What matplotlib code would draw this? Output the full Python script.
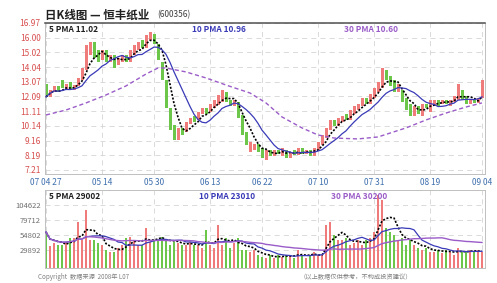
import matplotlib
matplotlib.use("Agg")
import matplotlib.pyplot as plt
import numpy as np
import pandas as pd

plt.rcParams['font.family'] = ['Noto Sans CJK SC', 'DejaVu Sans']

# daily candles (price)
opens = [12.92, 12.06, 12.39, 12.79, 13.19, 12.52, 13.05, 12.52, 12.79, 13.19,
         13.85, 14.85, 15.71, 15.18, 14.51, 15.18, 14.38, 14.85, 14.18, 14.38,
         14.85, 14.38, 14.85, 15.18, 15.84, 15.31, 15.84, 16.24, 15.58, 14.38,
         13.19, 11.33, 10.20, 9.20, 10.00, 9.73, 10.26, 10.80, 10.53, 10.93,
         11.33, 11.06, 11.33, 11.53, 11.72, 12.39, 11.86, 11.46, 11.72, 10.86,
         9.73, 8.40, 8.54, 8.94, 8.67, 7.87, 8.54, 8.14, 8.54, 8.14,
         8.54, 8.01, 8.54, 8.21, 8.67, 8.27, 8.54, 8.14, 8.54, 8.87,
         9.33, 9.87, 10.53, 10.13, 10.40, 10.93, 10.53, 10.93, 11.19, 11.46,
         11.99, 11.59, 11.99, 12.39, 12.65, 13.85, 13.45, 13.19, 12.39, 12.52,
         11.99, 11.59, 10.80, 11.46, 10.80, 11.59, 11.06, 11.46, 11.86, 11.59,
         11.86, 11.46, 11.72, 11.86, 12.52, 12.12, 11.59, 11.86, 11.66, 11.99]
closes = [12.06, 12.52, 12.79, 12.39, 12.65, 12.92, 12.52, 12.85, 13.32, 13.98,
          15.51, 15.71, 14.65, 14.38, 15.18, 14.38, 14.85, 13.98, 14.65, 14.85,
          14.38, 15.18, 15.51, 15.71, 15.31, 16.17, 16.37, 15.58, 14.51, 13.19,
          11.33, 9.87, 9.20, 10.00, 9.53, 10.40, 10.66, 10.40, 11.06, 11.33,
          10.93, 11.59, 11.86, 12.19, 12.52, 11.72, 11.46, 11.86, 10.66, 9.53,
          8.87, 9.07, 8.94, 8.40, 8.01, 8.54, 8.14, 8.54, 8.27, 8.67,
          8.01, 8.40, 8.21, 8.67, 8.27, 8.54, 8.14, 8.67, 9.07, 9.53,
          10.00, 10.53, 10.13, 10.66, 10.80, 10.53, 11.19, 11.46, 11.59, 11.99,
          11.59, 12.26, 12.65, 13.05, 13.98, 13.19, 12.79, 12.39, 12.92, 11.72,
          11.19, 10.80, 11.46, 10.93, 11.59, 11.33, 11.86, 11.86, 11.46, 11.86,
          11.59, 11.86, 12.12, 12.92, 11.86, 11.59, 11.86, 11.66, 11.99, 13.19]
volumes = [59800, 36500, 41500, 38200, 38200, 43200, 49800, 49800, 76400, 46500,
           96300, 46500, 46500, 41500, 38200, 29900, 26600, 26600, 33200, 38200,
           49800, 51500, 46500, 38200, 38200, 66400, 43200, 46500, 46500, 51500,
           46500, 38200, 43200, 41500, 38200, 38200, 43200, 38200, 38200, 33200,
           63100, 38200, 33200, 71400, 38200, 49800, 33200, 41500, 49800, 29900,
           29900, 26600, 29900, 21600, 18300, 16600, 21600, 16600, 21600, 18300,
           21600, 21600, 16600, 29900, 21600, 16600, 21600, 26600, 21600, 21600,
           71400, 76400, 54800, 46500, 46500, 49800, 38200, 41500, 46500, 38200,
           46500, 49800, 59800, 121300, 112900, 66400, 59800, 54800, 46500, 49800,
           38200, 46500, 38200, 33200, 29900, 33200, 26600, 26600, 29900, 24900,
           29900, 26600, 21600, 33200, 26600, 26600, 29900, 26600, 29900, 26600]

# 30-day price average as drawn (read at these candle indices)
ma30_idx = [0, 5, 10, 15, 20, 25, 28, 30, 35, 40, 45, 51, 55, 59, 64, 68, 72,
            78, 83, 90, 95, 100, 105, 109]
ma30_val = [10.86, 11.19, 11.66, 12.19, 12.79, 13.58, 13.98, 13.98, 13.72,
            13.32, 12.85, 12.32, 11.66, 10.73, 10.00, 9.53, 9.33, 9.27, 9.40,
            10.00, 10.53, 10.99, 11.39, 11.66]

date_pos = [0, 14, 27, 41, 54, 68, 82, 96, 109]
date_labels = ["07 04 27", "05 14", "05 30", "06 13", "06 22",
               "07 10", "07 31", "08 19", "09 04"]
price_ticks = [16.97, 16.00, 15.02, 14.04, 13.07, 12.09, 11.11, 10.14, 9.16, 8.19, 7.21]
vol_ticks = [104622, 79712, 54802, 29892]

RED = "#f07b7b"
GREEN = "#6cc64a"
BLUE = "#3a3ab8"
PURPLE = "#9a5cc8"

o = np.array(opens)
c = np.array(closes)
v = np.array(volumes)
idx = np.arange(len(c))
up = c >= o
cols = np.where(up, RED, GREEN)

fig = plt.figure(figsize=(4.97, 2.83), dpi=100)

ax = fig.add_axes([45 / 497, 1 - 174 / 283, 440 / 497, 151 / 283])
ax.bar(idx, np.abs(c - o), bottom=np.minimum(o, c), width=0.75, color=cols, zorder=2)
s = pd.Series(c)
ax.plot(idx, s.rolling(5, min_periods=1).mean(), color="black", ls=(0, (1.2, 1)), lw=1.2, zorder=3)
ax.plot(idx, s.rolling(10, min_periods=1).mean(), color=BLUE, lw=0.9, zorder=3)
ax.plot(ma30_idx, ma30_val, color=PURPLE, ls=(0, (3, 2)), lw=1.0, zorder=3)
ax.set_xlim(-0.25, 109.75)
ax.set_ylim(6.94, 16.97)
ax.set_yticks(price_ticks)
ax.set_yticklabels([f"{t:.2f}" for t in price_ticks], color="#d85050", fontsize=6)
ax.set_xticks(date_pos)
ax.set_xticklabels(date_labels, color="#3f6fae", fontsize=6)
ax.tick_params(length=0, pad=3)
ax.grid(True, color="#d4d4d4", ls=(0, (6, 5)), lw=0.6)
for sp in ax.spines.values():
    sp.set_color("#c0c0c0")
    sp.set_linewidth(0.7)
ax.spines["top"].set_color("#505050")
ax.spines["top"].set_linewidth(1.1)
ax.text(0.008, 0.985, "5 PMA 11.02", transform=ax.transAxes, va="top", fontsize=6,
        fontweight="bold", color="#202020")
ax.text(0.334, 0.985, "10 PMA 10.96", transform=ax.transAxes, va="top", fontsize=6,
        fontweight="bold", color=BLUE)
ax.text(0.68, 0.985, "30 PMA 10.60", transform=ax.transAxes, va="top", fontsize=6,
        fontweight="bold", color=PURPLE)

vx = fig.add_axes([45 / 497, 1 - 268 / 283, 440 / 497, 78 / 283])
vx.bar(idx, v, width=0.7, color=cols, zorder=2)
vs = pd.Series(v)
vx.plot(idx, vs.rolling(5, min_periods=1).mean(), color="black", ls=(0, (1.2, 1)), lw=1.2, zorder=3)
vx.plot(idx, vs.rolling(10, min_periods=1).mean(), color=BLUE, lw=0.9, zorder=3)
vx.plot(idx, vs.rolling(30, min_periods=1).mean(), color=PURPLE, lw=1.0, zorder=3)
vx.set_xlim(-0.25, 109.75)
vx.set_ylim(0, 129600)
vx.set_yticks(vol_ticks)
vx.set_yticklabels([str(t) for t in vol_ticks], color="#707070", fontsize=5.5)
vx.set_xticks(date_pos)
vx.set_xticklabels([])
vx.tick_params(length=0, pad=3)
vx.grid(True, color="#d4d4d4", ls=(0, (6, 5)), lw=0.6)
for sp in vx.spines.values():
    sp.set_color("#c0c0c0")
    sp.set_linewidth(0.7)
vx.text(0.008, 0.97, "5 PMA 29002", transform=vx.transAxes, va="top", fontsize=6,
        fontweight="bold", color="#202020")
vx.text(0.35, 0.97, "10 PMA 23010", transform=vx.transAxes, va="top", fontsize=6,
        fontweight="bold", color=BLUE)
vx.text(0.65, 0.97, "30 PMA 30200", transform=vx.transAxes, va="top", fontsize=6,
        fontweight="bold", color=PURPLE)

fig.text(45 / 497, 1 - 15 / 283, "日K线图 — 恒丰纸业", fontsize=8.3, fontweight="bold",
         va="center", color="#202020")
fig.text(157 / 497, 1 - 15 / 283, "(600356)", fontsize=6, va="center", color="#404040")
fig.text(38 / 497, 1 - 277 / 283, "Copyright  数据来源  2008年 L07", fontsize=4.5,
         va="center", color="#808080")
fig.text(300 / 497, 1 - 277 / 283, "（以上数据仅供参考，不构成投资建议）", fontsize=4.5,
         va="center", color="#808080")

fig.savefig("out.png", dpi=100)
